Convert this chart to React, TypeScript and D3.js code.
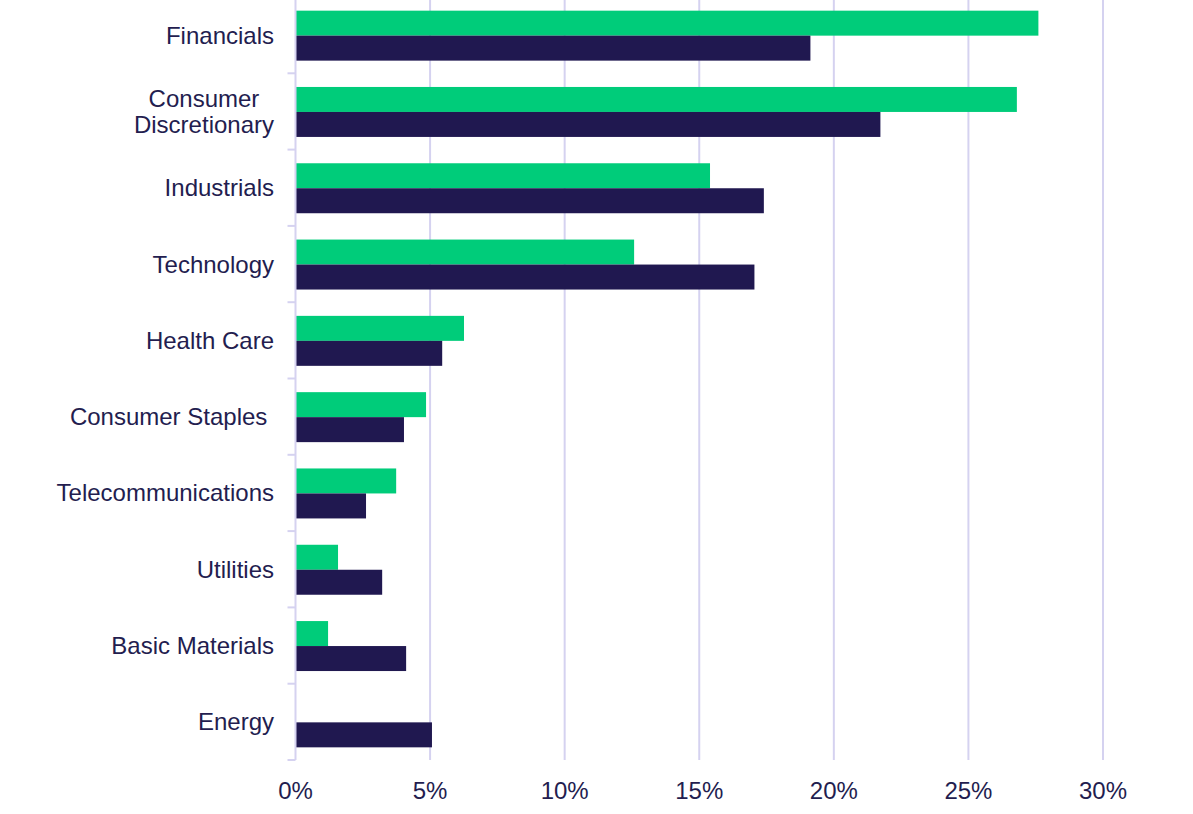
import React, { useEffect, useRef } from "react";
import * as d3 from "d3";

const categories = [
  "Financials",
  "Consumer\nDiscretionary",
  "Industrials",
  "Technology",
  "Health Care",
  "Consumer Staples ",
  "Telecommunications",
  "Utilities",
  "Basic Materials",
  "Energy",
];
const seriesNames = ["Fund", "Benchmark"];
const fundValues = [27.6, 26.8, 15.4, 12.58, 6.26, 4.85, 3.74, 1.58, 1.21, 0];
const benchmarkValues = [19.13, 21.73, 17.4, 17.05, 5.45, 4.03, 2.62, 3.22, 4.11, 5.07];
const xTicks = [0, 5, 10, 15, 20, 25, 30];

const W = 1193;
const H = 814;
const GREEN = "#00cc7a";
const NAVY = "#201850";
const GRID = "#d5d2f0";
const TEXT = "#231d4f";
const FONT = "'Liberation Sans', Arial, sans-serif";
const FS = 24;

export default function App() {
  const ref = useRef<SVGSVGElement | null>(null);

  useEffect(() => {
    const svg = d3.select(ref.current);
    svg.selectAll("*").remove();

    const x = d3.scaleLinear().domain([0, 30]).range([295.5, 1103]);
    const y = d3
      .scaleBand<string>()
      .domain(categories)
      .range([-3, 760])
      .paddingInner(0.345)
      .paddingOuter(0.1725);
    const sub = d3.scaleBand<string>().domain(seriesNames).range([0, y.bandwidth()]);

    // gridlines
    svg
      .append("g")
      .selectAll("line")
      .data(xTicks.slice(1))
      .join("line")
      .attr("x1", (d) => x(d))
      .attr("x2", (d) => x(d))
      .attr("y1", 0)
      .attr("y2", 760)
      .attr("stroke", GRID)
      .attr("stroke-width", 2);

    // bars
    const rows = categories.map((c, i) => ({ c, vals: [fundValues[i], benchmarkValues[i]] }));
    const g = svg.append("g");
    rows.forEach((r) => {
      r.vals.forEach((v, j) => {
        if (v <= 0) return;
        g.append("rect")
          .attr("x", x(0))
          .attr("y", (y(r.c) as number) + (sub(seriesNames[j]) as number) + 0.5)
          .attr("width", x(v) - x(0))
          .attr("height", sub.bandwidth())
          .attr("fill", j === 0 ? GREEN : NAVY);
      });
    });

    // y axis line and ticks
    svg
      .append("line")
      .attr("x1", x(0))
      .attr("x2", x(0))
      .attr("y1", 0)
      .attr("y2", 760)
      .attr("stroke", GRID)
      .attr("stroke-width", 2);
    const step = y.step();
    const tickYs = categories.map((_, i) => -3 + step * (i + 1));
    svg
      .append("g")
      .selectAll("line")
      .data(tickYs)
      .join("line")
      .attr("x1", x(0) - 8)
      .attr("x2", x(0))
      .attr("y1", (d) => d)
      .attr("y2", (d) => d)
      .attr("stroke", GRID)
      .attr("stroke-width", 2);

    // category labels
    const labelX = 274;
    const lineH = 26;
    categories.forEach((c) => {
      const lines = c.split("\n");
      const cy = (y(c) as number) + y.bandwidth() / 2;
      const t = svg
        .append("text")
        .attr("font-family", FONT)
        .attr("font-size", FS)
        .attr("fill", TEXT)
        .style("white-space", "pre");
      if (lines.length === 1) {
        t.attr("x", labelX).attr("y", cy + 8.5).attr("text-anchor", "end").text(lines[0]);
      } else {
        const tmp = t.append("tspan").text(lines[lines.length - 1]);
        const maxW = (tmp.node() as SVGTSpanElement).getComputedTextLength();
        tmp.remove();
        const cx = labelX - maxW / 2;
        const y0 = cy + 8.5 - ((lines.length - 1) * lineH) / 2;
        lines.forEach((ln, k) => {
          t.append("tspan")
            .attr("x", cx)
            .attr("y", y0 + k * lineH)
            .attr("text-anchor", "middle")
            .text(ln);
        });
      }
    });

    // x tick labels
    svg
      .append("g")
      .selectAll("text")
      .data(xTicks)
      .join("text")
      .attr("x", (d) => x(d))
      .attr("y", 799)
      .attr("text-anchor", "middle")
      .attr("font-family", FONT)
      .attr("font-size", FS)
      .attr("fill", TEXT)
      .text((d) => `${d}%`);
  }, []);

  return (
    <svg
      ref={ref}
      width={W}
      height={H}
      style={{ position: "absolute", left: 0, top: 0, background: "#fff", display: "block" }}
    />
  );
}
